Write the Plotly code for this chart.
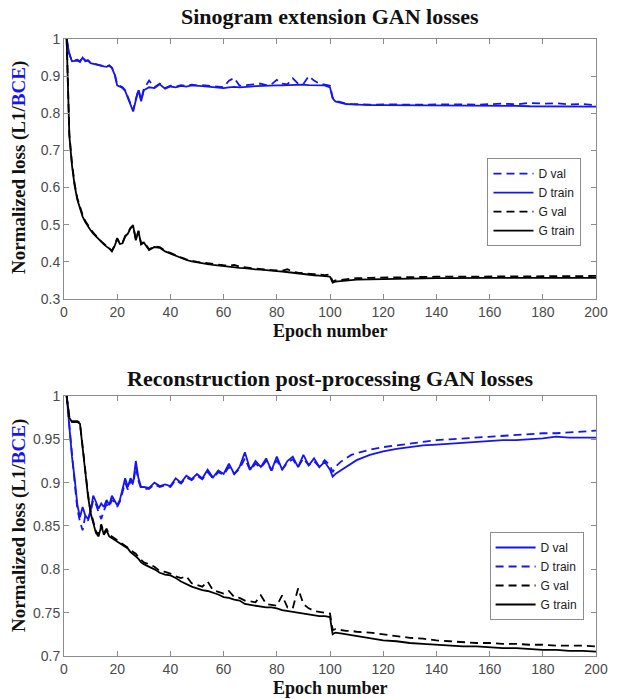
import plotly.graph_objects as go

# Epochs at which the losses were logged
epochs = (list(range(1, 31)) + list(range(32, 101, 2)) + [101, 102, 104, 106, 108, 110]
          + list(range(115, 201, 5)))

# ---- Sinogram extension GAN ----
sino_d_val = [
    1.000, 0.960, 0.940, 0.942, 0.944, 0.940, 0.952, 0.942, 0.943, 0.936,
    0.934, 0.931, 0.931, 0.929, 0.927, 0.926, 0.929, 0.923, 0.908, 0.878,
    0.874, 0.870, 0.862, 0.845, 0.828, 0.808, 0.838, 0.865, 0.836, 0.866,
    0.888, 0.870, 0.880, 0.868, 0.874, 0.872, 0.876, 0.874, 0.877, 0.875,
    0.876, 0.875, 0.874, 0.872, 0.870, 0.888, 0.895, 0.874, 0.875, 0.876,
    0.877, 0.880, 0.876, 0.878, 0.890, 0.880, 0.878, 0.894, 0.880, 0.879,
    0.900, 0.888, 0.880, 0.878, 0.874,
    0.842, 0.834, 0.830, 0.826, 0.825, 0.824,
    0.823, 0.824, 0.823, 0.824, 0.823, 0.824, 0.825, 0.824, 0.823, 0.825,
    0.826, 0.824, 0.828, 0.826, 0.827, 0.824, 0.825, 0.822,
]
sino_d_train = [
    1.000, 0.960, 0.940, 0.940, 0.942, 0.938, 0.950, 0.940, 0.942, 0.935,
    0.933, 0.930, 0.930, 0.928, 0.926, 0.925, 0.928, 0.922, 0.905, 0.875,
    0.872, 0.868, 0.860, 0.842, 0.825, 0.805, 0.835, 0.862, 0.832, 0.862,
    0.870, 0.868, 0.878, 0.866, 0.872, 0.870, 0.874, 0.872, 0.875, 0.873,
    0.873, 0.872, 0.871, 0.870, 0.868, 0.870, 0.871, 0.870, 0.872, 0.872,
    0.873, 0.874, 0.873, 0.874, 0.875, 0.875, 0.876, 0.876, 0.877, 0.877,
    0.876, 0.876, 0.874, 0.875, 0.870,
    0.840, 0.832, 0.828, 0.825, 0.824, 0.823,
    0.822, 0.822, 0.822, 0.822, 0.821, 0.821, 0.821, 0.821, 0.820, 0.820,
    0.820, 0.820, 0.819, 0.819, 0.819, 0.818, 0.818, 0.818,
]
sino_g_val = [
    1.000, 0.745, 0.665, 0.610, 0.572, 0.546, 0.526, 0.510, 0.498, 0.488,
    0.479, 0.470, 0.462, 0.455, 0.449, 0.443, 0.438, 0.430, 0.444, 0.464,
    0.450, 0.452, 0.470, 0.478, 0.492, 0.499, 0.460, 0.484, 0.449, 0.454,
    0.434, 0.442, 0.440, 0.430, 0.424, 0.417, 0.412, 0.407, 0.403, 0.400,
    0.398, 0.396, 0.395, 0.393, 0.391, 0.390, 0.392, 0.387, 0.385, 0.383,
    0.382, 0.381, 0.379, 0.378, 0.377, 0.376, 0.380, 0.373, 0.371, 0.369,
    0.368, 0.367, 0.366, 0.364, 0.366,
    0.347, 0.350, 0.352, 0.354, 0.355, 0.356,
    0.357, 0.358, 0.358, 0.359, 0.359, 0.360, 0.360, 0.360, 0.361, 0.361,
    0.361, 0.361, 0.362, 0.361, 0.362, 0.361, 0.362, 0.362,
]
sino_g_train = [
    1.000, 0.740, 0.660, 0.605, 0.568, 0.542, 0.522, 0.507, 0.495, 0.485,
    0.476, 0.468, 0.460, 0.453, 0.447, 0.441, 0.436, 0.428, 0.442, 0.462,
    0.448, 0.450, 0.468, 0.476, 0.490, 0.497, 0.458, 0.482, 0.447, 0.452,
    0.432, 0.440, 0.438, 0.428, 0.422, 0.415, 0.410, 0.405, 0.401, 0.398,
    0.396, 0.394, 0.392, 0.390, 0.388, 0.387, 0.385, 0.384, 0.383, 0.381,
    0.380, 0.379, 0.377, 0.376, 0.375, 0.374, 0.372, 0.370, 0.368, 0.366,
    0.365, 0.364, 0.363, 0.362, 0.360,
    0.344, 0.347, 0.348, 0.350, 0.351, 0.352,
    0.353, 0.354, 0.355, 0.355, 0.356, 0.356, 0.356, 0.357, 0.357, 0.357,
    0.357, 0.357, 0.357, 0.357, 0.357, 0.357, 0.357, 0.357,
]

# ---- Reconstruction post-processing GAN ----
recon_d_val = [
    1.000, 0.965, 0.930, 0.905, 0.875, 0.860, 0.872, 0.862, 0.858, 0.868,
    0.885, 0.878, 0.870, 0.876, 0.872, 0.880, 0.874, 0.885, 0.880, 0.874,
    0.880, 0.892, 0.905, 0.895, 0.905, 0.900, 0.925, 0.905, 0.895, 0.895,
    0.894, 0.900, 0.896, 0.898, 0.896, 0.905, 0.900, 0.908, 0.904, 0.910,
    0.905, 0.915, 0.906, 0.914, 0.910, 0.922, 0.910, 0.918, 0.935, 0.915,
    0.925, 0.918, 0.928, 0.914, 0.930, 0.915, 0.925, 0.930, 0.918, 0.932,
    0.920, 0.928, 0.918, 0.924, 0.915,
    0.907, 0.910, 0.914, 0.918, 0.922, 0.926,
    0.932, 0.936, 0.939, 0.941, 0.943, 0.944, 0.945, 0.946, 0.947, 0.948,
    0.949, 0.949, 0.950, 0.951, 0.953, 0.952, 0.952, 0.952,
]
recon_d_train = [
    1.000, 0.965, 0.930, 0.900, 0.870, 0.855, 0.845, 0.862, 0.856, 0.866,
    0.880, 0.875, 0.866, 0.858, 0.868, 0.875, 0.872, 0.880, 0.878, 0.872,
    0.878, 0.888, 0.900, 0.892, 0.902, 0.898, 0.918, 0.902, 0.893, 0.893,
    0.893, 0.898, 0.895, 0.897, 0.895, 0.903, 0.899, 0.906, 0.903, 0.908,
    0.904, 0.912, 0.905, 0.912, 0.909, 0.918, 0.910, 0.916, 0.928, 0.914,
    0.922, 0.917, 0.925, 0.914, 0.926, 0.915, 0.923, 0.927, 0.918, 0.928,
    0.920, 0.925, 0.918, 0.926, 0.920,
    0.912, 0.918, 0.924, 0.928, 0.932, 0.934,
    0.938, 0.941, 0.943, 0.945, 0.947, 0.949, 0.950, 0.951, 0.952, 0.953,
    0.954, 0.955, 0.956, 0.957, 0.957, 0.958, 0.959, 0.960,
]
recon_g_val = [
    1.000, 0.976, 0.971, 0.971, 0.971, 0.969, 0.942, 0.912, 0.887, 0.867,
    0.854, 0.844, 0.840, 0.852, 0.842, 0.847, 0.840, 0.838, 0.836, 0.834,
    0.832, 0.830, 0.828, 0.826, 0.823, 0.820, 0.818, 0.814, 0.811, 0.808,
    0.806, 0.803, 0.798, 0.797, 0.795, 0.792, 0.790, 0.792, 0.784, 0.782,
    0.780, 0.786, 0.776, 0.774, 0.772, 0.775, 0.768, 0.767, 0.764, 0.763,
    0.762, 0.770, 0.760, 0.759, 0.758, 0.770, 0.756, 0.755, 0.778, 0.760,
    0.755, 0.752, 0.751, 0.750, 0.749,
    0.730, 0.731, 0.730, 0.729, 0.729, 0.728,
    0.727, 0.725, 0.723, 0.721, 0.720, 0.718, 0.717, 0.716, 0.715, 0.715,
    0.714, 0.714, 0.713, 0.713, 0.712, 0.712, 0.712, 0.711,
]
recon_g_train = [
    1.000, 0.975, 0.970, 0.970, 0.970, 0.968, 0.940, 0.910, 0.885, 0.865,
    0.852, 0.842, 0.838, 0.850, 0.840, 0.845, 0.838, 0.836, 0.834, 0.832,
    0.830, 0.828, 0.826, 0.824, 0.820, 0.818, 0.815, 0.812, 0.808, 0.806,
    0.803, 0.800, 0.796, 0.794, 0.793, 0.790, 0.786, 0.783, 0.780, 0.778,
    0.776, 0.775, 0.773, 0.771, 0.768, 0.767, 0.765, 0.764, 0.760, 0.759,
    0.758, 0.757, 0.756, 0.756, 0.755, 0.753, 0.752, 0.751, 0.750, 0.749,
    0.748, 0.747, 0.746, 0.746, 0.745,
    0.725, 0.727, 0.726, 0.725, 0.724, 0.723,
    0.720, 0.718, 0.717, 0.715, 0.714, 0.713, 0.712, 0.711, 0.711, 0.710,
    0.709, 0.709, 0.708, 0.707, 0.707, 0.706, 0.706, 0.705,
]

x_ticks = list(range(0, 201, 20))
BLUE = "#1515f0"
BLACK = "#000000"
DASH = "8px,5px"

fig = go.Figure()

top = [
    ("D val", sino_d_val, BLUE, DASH),
    ("D train", sino_d_train, BLUE, "solid"),
    ("G val", sino_g_val, BLACK, DASH),
    ("G train", sino_g_train, BLACK, "solid"),
]
for name, ys, color, dash in top:
    fig.add_trace(go.Scatter(x=epochs, y=ys, mode="lines", name=name,
                             line=dict(color=color, width=1.8, dash=dash),
                             xaxis="x", yaxis="y", legend="legend"))

bottom = [
    ("D val", recon_d_val, BLUE, "solid"),
    ("D train", recon_d_train, BLUE, DASH),
    ("G val", recon_g_val, BLACK, DASH),
    ("G train", recon_g_train, BLACK, "solid"),
]
for name, ys, color, dash in bottom:
    fig.add_trace(go.Scatter(x=epochs, y=ys, mode="lines", name=name,
                             line=dict(color=color, width=1.8, dash=dash),
                             xaxis="x2", yaxis="y2", legend="legend2"))

axis_common = dict(
    showgrid=False, zeroline=False, showline=True, mirror="ticks",
    linecolor="#8c8c8c", linewidth=1, ticks="inside", ticklen=5,
    tickcolor="#8c8c8c",
    tickfont=dict(family="Liberation Sans, Arial", size=14, color="#4a4a4a"),
)

legend_common = dict(
    bgcolor="white", bordercolor="#8c8c8c", borderwidth=1,
    font=dict(family="Liberation Sans, Arial", size=12, color="#202020"),
    xanchor="left", yanchor="top", tracegroupgap=0, itemwidth=40,
)

fig.update_layout(
    width=620, height=699,
    margin=dict(l=64, r=12, t=39, b=43),
    paper_bgcolor="white", plot_bgcolor="white",
    xaxis=dict(domain=[0, 1], range=[0, 200], tickvals=x_ticks, anchor="y", **axis_common),
    yaxis=dict(domain=[0.5786, 1], range=[0.3, 1], dtick=0.1, anchor="x", **axis_common),
    xaxis2=dict(domain=[0, 1], range=[0, 200], tickvals=x_ticks, anchor="y2", **axis_common),
    yaxis2=dict(domain=[0, 0.4214], range=[0.7, 1], dtick=0.05, anchor="x2", **axis_common),
    legend=dict(x=0.796, y=0.807, **legend_common),
    legend2=dict(x=0.8, y=0.201, **legend_common),
    showlegend=True,
)

title_font = dict(family="Liberation Serif, Times New Roman", size=22, color="#111111")
label_font = dict(family="Liberation Serif, Times New Roman", size=18, color="#111111")
ylabel_font = dict(family="Liberation Serif, Times New Roman", size=19, color="#111111")
ylabel = 'Normalized loss (L1/<span style="color:#1515f0">BCE</span>)'

annotations = [
    dict(text="<b>Sinogram extension GAN losses</b>", x=0.5, y=16, font=title_font),
    dict(text="<b>Reconstruction post-processing GAN losses</b>", x=0.5, y=378, font=title_font),
    dict(text="<b>Epoch number</b>", x=0.5, y=331, font=label_font),
    dict(text="<b>Epoch number</b>", x=0.5, y=688, font=label_font),
]
for a in annotations:
    fig.add_annotation(text=a["text"], xref="paper", x=a["x"], yref="paper",
                       y=(656 - a["y"]) / 617, showarrow=False, font=a["font"],
                       xanchor="center", yanchor="middle")

for yc in (168, 526):
    fig.add_annotation(text="<b>" + ylabel + "</b>", xref="paper", x=(18 - 64) / 544,
                       yref="paper", y=(656 - yc) / 617, textangle=-90,
                       showarrow=False, font=ylabel_font,
                       xanchor="center", yanchor="middle")

fig.write_html("out.html")
